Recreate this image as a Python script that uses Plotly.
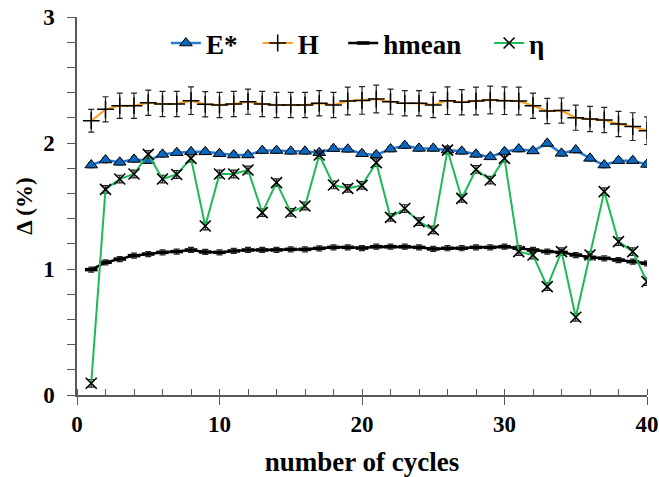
import plotly.graph_objects as go

cycles = list(range(1, 41))

E_star = [1.825, 1.865, 1.847, 1.87, 1.86, 1.91, 1.923, 1.93, 1.93, 1.915,
          1.905, 1.905, 1.94, 1.94, 1.934, 1.934, 1.923, 1.955, 1.95, 1.915,
          1.905, 1.952, 1.98, 1.957, 1.957, 1.944, 1.934, 1.91, 1.89, 1.93,
          1.952, 1.937, 1.997, 1.918, 1.944, 1.878, 1.825, 1.86, 1.86, 1.83]
E_err = [0.02] * 40

H = [2.177, 2.267, 2.296, 2.296, 2.32, 2.31, 2.31, 2.336, 2.307, 2.302,
     2.31, 2.328, 2.31, 2.302, 2.302, 2.302, 2.315, 2.302, 2.333, 2.338,
     2.349, 2.328, 2.315, 2.315, 2.302, 2.336, 2.323, 2.333, 2.341, 2.336,
     2.333, 2.296, 2.254, 2.257, 2.201, 2.19, 2.183, 2.151, 2.13, 2.098]
H_err = [0.09, 0.1, 0.1, 0.1, 0.1, 0.1, 0.1, 0.11, 0.1, 0.1,
         0.1, 0.1, 0.1, 0.1, 0.1, 0.1, 0.1, 0.1, 0.11, 0.11,
         0.11, 0.1, 0.1, 0.1, 0.1, 0.11, 0.1, 0.11, 0.11, 0.11,
         0.11, 0.1, 0.1, 0.1, 0.1, 0.1, 0.1, 0.1, 0.11, 0.11]

hmean = [0.995, 1.053, 1.079, 1.106, 1.119, 1.132, 1.138, 1.151, 1.135, 1.132,
         1.143, 1.151, 1.151, 1.151, 1.156, 1.156, 1.164, 1.172, 1.172, 1.166,
         1.177, 1.177, 1.177, 1.172, 1.159, 1.165, 1.165, 1.172, 1.172, 1.177,
         1.165, 1.151, 1.138, 1.132, 1.111, 1.093, 1.085, 1.071, 1.058, 1.045]
hmean_err = [0.02] * 40

eta = [0.093, 1.632, 1.714, 1.754, 1.91, 1.714, 1.75, 1.878, 1.341, 1.754,
       1.754, 1.786, 1.447, 1.685, 1.45, 1.5, 1.905, 1.667, 1.64, 1.664,
       1.844, 1.41, 1.48, 1.376, 1.31, 1.944, 1.56, 1.79, 1.706, 1.878,
       1.138, 1.111, 0.86, 1.138, 0.617, 1.111, 1.614, 1.217, 1.138, 0.9]
eta_err = [0.03] * 40

FONT = "Liberation Serif"
AX = "#595959"

def err(arr):
    return dict(type="data", array=arr, visible=True, color="#222222",
                thickness=1.2, width=3)

fig = go.Figure()
fig.add_trace(go.Scatter(
    x=cycles, y=E_star, name="E*", mode="lines+markers", legend="legend",
    line=dict(color="#2A7BD0", width=2.5),
    marker=dict(symbol="triangle-up", size=11, color="#0B68BE",
                line=dict(color="black", width=1)),
    error_y=err(E_err)))
fig.add_trace(go.Scatter(
    x=cycles, y=H, name="H", mode="lines+markers", legend="legend2",
    line=dict(color="#FFA01E", width=2),
    marker=dict(symbol="cross-thin", size=12, color="black",
                line=dict(color="black", width=1.5)),
    error_y=err(H_err)))
fig.add_trace(go.Scatter(
    x=cycles, y=hmean, name="hmean", mode="lines+markers", legend="legend3",
    line=dict(color="black", width=2.5),
    marker=dict(symbol="line-ew", size=9, color="black",
                line=dict(color="black", width=3.5)),
    error_y=err(hmean_err)))
fig.add_trace(go.Scatter(
    x=cycles, y=eta, name="η", mode="lines+markers", legend="legend4",
    line=dict(color="#1DB954", width=2),
    marker=dict(symbol="x-thin", size=11, color="black",
                line=dict(color="black", width=1.6)),
    error_y=err(eta_err)))

def leg(xpos):
    return dict(orientation="h", x=xpos, xanchor="left", y=0.93, yanchor="middle",
                font=dict(family=FONT, size=27, color="black", weight="bold"),
                itemwidth=30, bgcolor="rgba(0,0,0,0)")

fig.update_layout(
    width=659, height=477,
    margin=dict(l=77, r=12, t=17, b=82, autoexpand=False),
    paper_bgcolor="white", plot_bgcolor="white",
    font=dict(family=FONT, size=20, color="black"),
    showlegend=True,
    legend=leg(0.156), legend2=leg(0.317), legend3=leg(0.467), legend4=leg(0.723),
    xaxis=dict(range=[0, 40], dtick=10, tick0=0, showgrid=False, zeroline=False,
               showline=True, linecolor=AX, linewidth=1.5, automargin=False,
               ticks="outside", ticklen=8, tickwidth=1.2, tickcolor=AX,
               minor=dict(dtick=2, ticks="inside", ticklen=6, tickwidth=1, tickcolor=AX),
               tickfont=dict(family=FONT, size=23, color="black", weight="bold"),
               title=dict(text="number of cycles", standoff=16,
                          font=dict(family=FONT, size=27, color="black", weight="bold"))),
    yaxis=dict(range=[0, 3], dtick=1, tick0=0, showgrid=False, zeroline=False,
               showline=True, linecolor=AX, linewidth=1.5, automargin=False,
               ticks="outside", ticklen=8, tickwidth=1.2, tickcolor=AX,
               minor=dict(dtick=0.2, ticks="outside", ticklen=8, tickwidth=1, tickcolor=AX),
               ticklabelstandoff=8,
               tickfont=dict(family=FONT, size=23, color="black", weight="bold"),
               title=dict(text="Δ (%)", standoff=4,
                          font=dict(family=FONT, size=23, color="black", weight="bold"))),
    xaxis2=dict(overlaying="x", anchor="y", range=[0, 40], dtick=10, tick0=0,
                showgrid=False, zeroline=False, showline=False, showticklabels=False,
                ticks="inside", ticklen=8, tickwidth=1.2, tickcolor=AX),
    yaxis2=dict(overlaying="y", anchor="x", range=[0, 3], dtick=1, tick0=0,
                showgrid=False, zeroline=False, showline=False, showticklabels=False,
                ticks="inside", ticklen=8, tickwidth=1.2, tickcolor=AX),
)

fig.write_html("out.html")
